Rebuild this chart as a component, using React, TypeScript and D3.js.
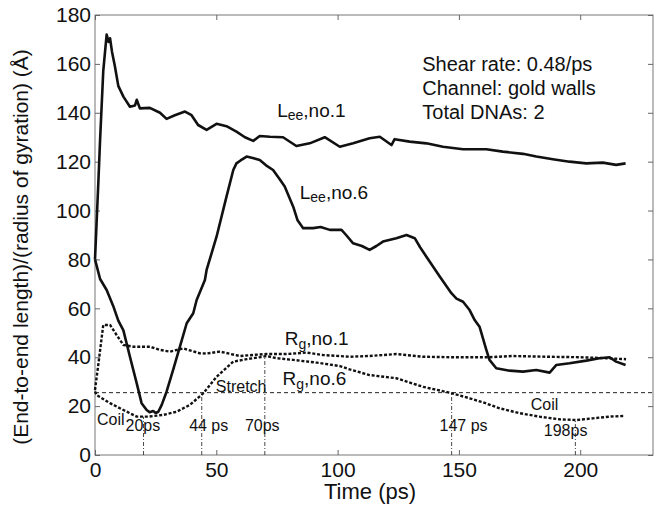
import React, { useEffect, useRef } from "react";
import * as d3 from "d3";

// axis ticks
const xTicks = [0, 50, 100, 150, 200];
const yTicks = [0, 20, 40, 60, 80, 100, 120, 140, 160, 180];

// [time (ps), value (Å)]
const leeNo1: [number, number][] = [
  [0, 80], [1.4, 112], [2.1, 129], [3.4, 157], [4.8, 172], [5.6, 169], [6.2, 170.5], [7.0, 165],
  [8.2, 159], [9.6, 151], [11.7, 146.6], [14.4, 142.5], [16.5, 143], [17.2, 145.3], [18.5, 141.8],
  [22.6, 142], [26.8, 140], [29.5, 137.5], [32.9, 139], [37.1, 140.5], [39.8, 139], [42.5, 135],
  [46, 133], [50.1, 135.5], [54.2, 134.5], [58.3, 132.3], [61.8, 130], [65.2, 128.5], [67.9, 130.5],
  [72.1, 130.2], [77.5, 130], [83, 126.4], [88.5, 127.5], [94.7, 130], [100.9, 126.1], [106.4, 127.5],
  [113.2, 129.6], [117.4, 130.2], [122.2, 126.8], [123.5, 129.2], [129.7, 128.2], [136.6, 127.5],
  [143.4, 126.1], [151.7, 125.1], [161.3, 125.1], [168.1, 124.1], [176.4, 123.2], [181.9, 122.1],
  [188.7, 121], [195.6, 120], [202.5, 119.3], [209.3, 119.6], [214.8, 118.7], [218.7, 119.3],
];

const leeNo6: [number, number][] = [
  [0, 80], [2.1, 72], [4.8, 67.5], [7.5, 61], [9.6, 55], [11.7, 51], [14.4, 40.2], [17.2, 29.3],
  [19.2, 21.2], [21.3, 18.4], [22.5, 17.5], [24, 18], [25, 17.2], [26.1, 17.7], [27.5, 20.5],
  [29.5, 25.9], [32.2, 34.8], [35, 44.3], [37.8, 53.9], [40.5, 58], [41.9, 63.4], [45.3, 71.6],
  [46, 75.7], [50.1, 89.3], [54.2, 105.7], [57, 116.6], [58.3, 119.3], [60, 120.5], [62.5, 122.1],
  [65, 121.5], [67.9, 120.7], [70.5, 118.5], [73.4, 116.6], [76, 113], [78.2, 109.8], [81.7, 101.6],
  [83.5, 96], [85.8, 92.8], [89.9, 92.8], [93, 93.3], [96.8, 92.1], [101.6, 92.1], [103.5, 90],
  [106.4, 86.6], [110, 85.5], [113.2, 83.9], [116, 85.5], [118.7, 87.3], [124.2, 88.7], [128.4, 90],
  [131.8, 88.7], [134, 85], [136.6, 81.1], [142.1, 73], [146.9, 66.2], [149, 64], [151.7, 62.7],
  [154.4, 59.3], [156.5, 55.2], [158.5, 52.5], [161.3, 43], [162.6, 38.9], [165.4, 35.5],
  [170.9, 34.5], [176.4, 34.1], [181.9, 34.8], [187.4, 33.7], [190.1, 36.8], [195.6, 37.5],
  [202.5, 38.6], [207.9, 39.6], [212.1, 40], [214.8, 38.2], [218.7, 36.8],
];

const rgNo1: [number, number][] = [
  [0, 26.6], [1.5, 38], [3.4, 53.2], [6.2, 53.2], [8.9, 49.1], [11.7, 45], [15.8, 44.3], [22.6, 44.3],
  [26.8, 43], [30.9, 42.3], [36.4, 43.6], [43.2, 41.6], [46, 41.5], [51.5, 42.3], [59.7, 40.5],
  [66, 41], [70.7, 41.3], [78.9, 41.3], [87.2, 41.9], [94, 40.9], [105, 40.2], [113.2, 40.5],
  [124.2, 41.3], [135.2, 40.2], [146.2, 40], [162.6, 40], [172.2, 40.5], [186, 40.2], [199.7, 40],
  [210.7, 39.6], [218.9, 39.2],
];

const rgNo6: [number, number][] = [
  [0, 26], [0.7, 24.5], [6.2, 21.2], [11.7, 18.4], [17.2, 15.7], [21.9, 15.7], [28.1, 16.4],
  [33.6, 17.7], [39.1, 20.5], [44.6, 25.2], [50.1, 32], [57, 38.2], [62.5, 39.2], [67.9, 40],
  [70.7, 40.5], [74.8, 39.6], [81.7, 38.9], [91.3, 37.8], [100.9, 36.4], [105, 35], [113.2, 32.7],
  [124.2, 31.4], [135.2, 27.9], [146.2, 25.5], [154.4, 23.2], [160, 21.5], [166.8, 19.1], [175, 17.1],
  [183.2, 15.7], [191.5, 14.6], [198.3, 14.3], [205.2, 15], [212.1, 15.7], [218.2, 16],
];

// coil/stretch threshold and the times where Rg no.6 crosses it
const thresholdValue = 25.5;
const markerTimes = [20, 44, 70, 147, 198];
const markerTops = [15.7, 25.4, 40.2, 25.5, 14.3];
const markerLabels = ["20ps", "44 ps", "70ps", "147 ps", "198ps"];

const infoLines = ["Shear rate: 0.48/ps", "Channel: gold walls", "Total DNAs: 2"];

const FONT = "'Liberation Sans', Arial, Helvetica, sans-serif";

const App = () => {
  const svgRef = useRef<SVGSVGElement>(null);

  useEffect(() => {
    if (!svgRef.current) return;
    const root = d3.select(svgRef.current);
    root.selectAll("*").remove();

    const margin = { top: 15, right: 7, bottom: 54, left: 95 };
    const width = 660 - margin.left - margin.right;
    const height = 509 - margin.top - margin.bottom;

    const x = d3.scaleLinear().domain([0, 230]).range([0, width]);
    const y = d3.scaleLinear().domain([0, 180]).range([height, 0]);

    const svg = root.append("g").attr("transform", `translate(${margin.left},${margin.top})`);

    // frame
    svg.append("rect")
      .attr("width", width).attr("height", height)
      .attr("fill", "none").attr("stroke", "#777").attr("stroke-width", 1);

    const styleAxis = (g: any, labels: boolean) => {
      g.select(".domain").remove();
      g.selectAll("line").attr("stroke", "#666");
      g.selectAll("text")
        .style("font-family", FONT)
        .style("font-size", "21px")
        .attr("fill", labels ? "#111" : "none");
    };

    // bottom / top axes, ticks point inward
    svg.append("g")
      .attr("transform", `translate(0,${height})`)
      .call(d3.axisBottom(x).tickValues(xTicks).tickSizeInner(-5).tickSizeOuter(0).tickPadding(7))
      .call((g: any) => styleAxis(g, true));
    svg.append("g")
      .call(d3.axisTop(x).tickValues(xTicks).tickSizeInner(-5).tickSizeOuter(0).tickFormat(() => ""))
      .call((g: any) => styleAxis(g, false));

    // left / right axes
    svg.append("g")
      .call(d3.axisLeft(y).tickValues(yTicks).tickSizeInner(-5).tickSizeOuter(0).tickPadding(4))
      .call((g: any) => styleAxis(g, true));
    svg.append("g")
      .attr("transform", `translate(${width},0)`)
      .call(d3.axisRight(y).tickValues(yTicks).tickSizeInner(-5).tickSizeOuter(0).tickFormat(() => ""))
      .call((g: any) => styleAxis(g, false));

    // threshold line
    svg.append("line")
      .attr("x1", 0).attr("x2", width)
      .attr("y1", y(thresholdValue)).attr("y2", y(thresholdValue))
      .attr("stroke", "#222").attr("stroke-width", 1).attr("stroke-dasharray", "4,3");

    // vertical markers
    svg.selectAll(".marker")
      .data(markerTimes)
      .enter()
      .append("line")
      .attr("class", "marker")
      .attr("x1", d => x(d)).attr("x2", d => x(d))
      .attr("y1", height).attr("y2", (d, i) => y(markerTops[i]))
      .attr("stroke", "#333").attr("stroke-width", 0.9).attr("stroke-dasharray", "4,2,1,2");

    const line = d3.line<[number, number]>().x(d => x(d[0])).y(d => y(d[1]));

    const series = [
      { data: leeNo1, dash: null },
      { data: leeNo6, dash: null },
      { data: rgNo1, dash: "3,1.8" },
      { data: rgNo6, dash: "3,1.8" },
    ];
    series.forEach(s => {
      svg.append("path")
        .datum(s.data)
        .attr("fill", "none")
        .attr("stroke", "#111")
        .attr("stroke-width", s.dash ? 2.4 : 2.6)
        .attr("stroke-linejoin", "round")
        .attr("stroke-dasharray", s.dash)
        .attr("d", line);
    });

    const txt = (tx: number, ty: number, size: number, anchor = "start") =>
      svg.append("text")
        .attr("x", x(tx)).attr("y", y(ty))
        .attr("text-anchor", anchor)
        .style("font-family", FONT)
        .style("font-size", `${size}px`)
        .attr("fill", "#111");

    // marker labels
    const labelPos = [[12.6, 9.8], [38.8, 9.8], [61.8, 9.8], [142, 9.8], [185, 7.8]];
    markerLabels.forEach((l, i) => txt(labelPos[i][0], labelPos[i][1], 16).text(l));
    txt(0.8, 12.3, 16).text("Coil");
    txt(179.6, 18.4, 16).text("Coil");
    txt(49.8, 25.9, 16).text("Stretch");

    // series labels with subscripts
    const subLabel = (tx: number, ty: number, main: string, sub: string, rest: string, dy: number) => {
      const t = txt(tx, ty, 19);
      t.append("tspan").text(main);
      t.append("tspan").attr("dy", dy).style("font-size", "14px").text(sub);
      t.append("tspan").attr("dy", -dy).text(rest);
    };
    subLabel(75.1, 138.4, "L", "ee", ",no.1", 3);
    subLabel(84.4, 104.6, "L", "ee", ",no.6", 3);
    subLabel(78.2, 45, "R", "g", ",no.1", 4);
    subLabel(77.3, 28.6, "R", "g", ",no.6", 4);

    // info box
    infoLines.forEach((l, i) => txt(134.9, 157.2 - i * 9.95, 20).text(l));

    // axis titles
    root.append("text")
      .attr("x", margin.left + width / 2 - 4)
      .attr("y", 499)
      .attr("text-anchor", "middle")
      .style("font-family", FONT)
      .style("font-size", "22px")
      .attr("fill", "#111")
      .text("Time (ps)");

    root.append("text")
      .attr("transform", `translate(28,247) rotate(-90)`)
      .attr("text-anchor", "middle")
      .style("font-family", FONT)
      .style("font-size", "21px")
      .attr("fill", "#111")
      .text("(End-to-end length)/(radius of gyration) (Å)");
  }, []);

  return (
    <svg
      ref={svgRef}
      width={660}
      height={509}
      style={{ position: "absolute", left: 0, top: 0, background: "#fff", display: "block" }}
    />
  );
};

export default App;
